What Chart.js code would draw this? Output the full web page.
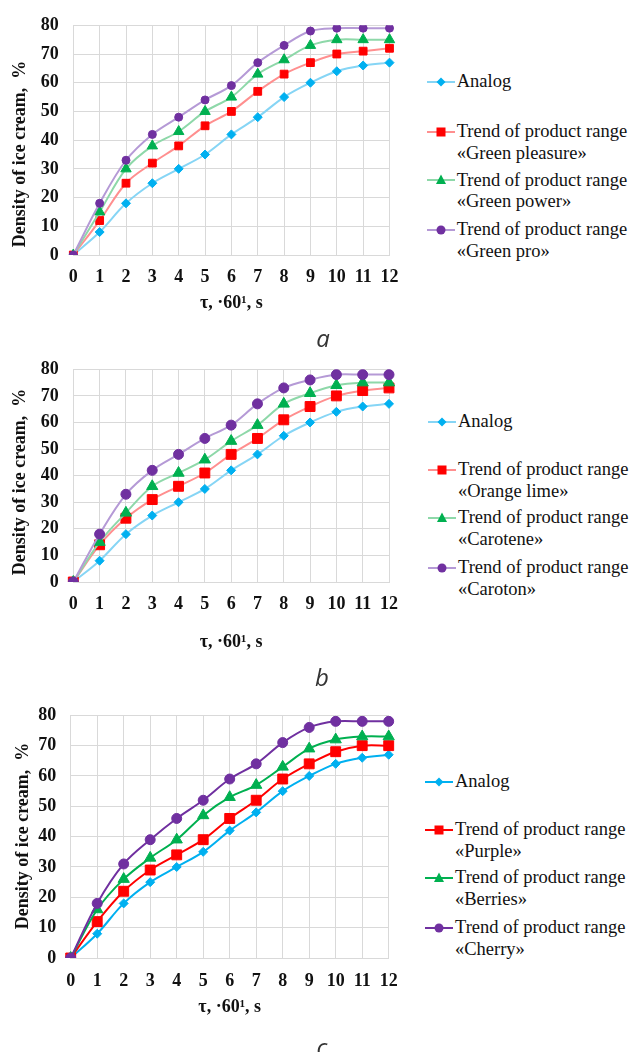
<!DOCTYPE html>
<html>
<head>
<meta charset="utf-8">
<script src="https://cdn.jsdelivr.net/npm/chart.js@4"></script>
<style>
  html, body { margin: 0; padding: 0; background: #fff; }
  body { width: 632px; height: 1052px; position: relative; overflow: hidden; }
  canvas { position: absolute; left: 0; }
  .ytitle { position: absolute; font: bold 18px "Liberation Serif", serif; color: #111;
            white-space: nowrap; transform: translate(-50%, -50%) rotate(-90deg); }
  .leg { position: absolute; left: 0; font: 18.5px "Liberation Serif", serif; color: #111;
         white-space: nowrap; line-height: 21.7px; }
  .leg svg { position: absolute; }
  .cap { position: absolute; font: italic 24px "Open Sans", sans-serif; color: #333;
         transform: translate(-50%, -50%); }
</style>
</head>
<body>
<canvas id="chartA"></canvas>
<canvas id="chartB"></canvas>
<canvas id="chartC"></canvas>

<script>
// x categories: time τ, ·60¹ s
var taus = ['0', '1', '2', '3', '4', '5', '6', '7', '8', '9', '10', '11', '12'];
var yTicks = [0, 10, 20, 30, 40, 50, 60, 70, 80];

// common control sample
var analog = [0, 8, 18, 25, 30, 35, 42, 48, 55, 60, 64, 66, 67];

// a
var greenPleasure = [0, 12, 25, 32, 38, 45, 50, 57, 63, 67, 70, 71, 72];
var greenPower = [0, 15, 30, 38, 43, 50, 55, 63, 68, 73, 75, 75, 75];
var greenPro = [0, 18, 33, 42, 48, 54, 59, 67, 73, 78, 79, 79, 79];

// b
var orangeLime = [0, 14, 24, 31, 36, 41, 48, 54, 61, 66, 70, 72, 73];
var carotene = [0, 15, 26, 36, 41, 46, 53, 59, 67, 71, 74, 75, 75];
var caroton = [0, 18, 33, 42, 48, 54, 59, 67, 73, 76, 78, 78, 78];

// c
var purple = [0, 12, 22, 29, 34, 39, 46, 52, 59, 64, 68, 70, 70];
var berries = [0, 16, 26, 33, 39, 47, 53, 57, 63, 69, 72, 73, 73];
var cherry = [0, 18, 31, 39, 46, 52, 59, 64, 71, 76, 78, 78, 78];

var markColors = ['#00b0f0', '#ff0000', '#00b050', '#7030a0'];
var paleLines = ['#86d5f5', '#ff8f8f', '#8ed8a9', '#b59ad6'];
var pointStyles = ['rectRot', 'rect', 'triangle', 'circle'];
var serif = '"Liberation Serif", "Times New Roman", serif';

function makeChart(id, series, names, g) {
    var canvas = document.getElementById(id);
    canvas.style.top = g.top + 'px';
    canvas.width = 410;
    canvas.height = g.height;
    canvas.style.width = '410px';
    canvas.style.height = g.height + 'px';

    var datasets = series.map(function (s, i) {
        return {
            label: names[i],
            data: s,
            borderColor: g.lines[i],
            backgroundColor: markColors[i],
            borderWidth: 2,
            tension: 0.35,
            pointStyle: pointStyles[i],
            pointRadius: g.radius[i],
            pointBackgroundColor: markColors[i],
            pointBorderColor: markColors[i],
            pointBorderWidth: 1,
            order: 4 - i
        };
    });

    return new Chart(canvas, {
        type: 'line',
        data: { labels: taus, datasets: datasets },
        options: {
            responsive: false,
            animation: false,
            layout: { padding: { top: g.padTop, right: g.padRight, left: 0, bottom: 0 } },
            plugins: { legend: { display: false }, tooltip: { enabled: false } },
            scales: {
                x: {
                    grid: { color: '#d9d9d9', drawTicks: false },
                    border: { color: '#d9d9d9' },
                    ticks: {
                        padding: g.xTickPad, color: '#111', maxRotation: 0, autoSkip: false,
                        font: { family: serif, weight: 'bold', size: 18 }
                    },
                    title: {
                        display: true, text: 'τ, ·60¹, s', color: '#111',
                        font: { family: serif, weight: 'bold', size: 18 },
                        padding: { top: 0, bottom: g.xTitlePad }
                    },
                    afterFit: function (s) { s.height = g.xAxisH; }
                },
                y: {
                    min: 0, max: 80,
                    grid: { color: '#d9d9d9', drawTicks: false },
                    border: { color: '#d9d9d9' },
                    afterBuildTicks: function (s) {
                        s.ticks = yTicks.map(function (v) { return { value: v }; });
                    },
                    ticks: {
                        padding: 14.5, color: '#111',
                        font: { family: serif, weight: 'bold', size: 18 }
                    },
                    afterFit: function (s) { s.width = g.left; }
                }
            }
        }
    });
}

makeChart('chartA', [analog, greenPleasure, greenPower, greenPro],
    ['Analog', 'Green pleasure', 'Green power', 'Green pro'],
    { top: 0, height: 325, padTop: 20, padRight: 12.3, left: 73.3, xAxisH: 70,
      xTickPad: 11.5, xTitlePad: 11, lines: paleLines, radius: [4.5, 5.5, 6, 4] });

makeChart('chartB', [analog, orangeLime, carotene, caroton],
    ['Analog', 'Orange lime', 'Carotene', 'Caroton'],
    { top: 340, height: 314, padTop: 29.3, padRight: 11, left: 73.3, xAxisH: 72,
      xTickPad: 12, xTitlePad: 1, lines: paleLines, radius: [4.5, 7, 6.5, 5] });

makeChart('chartC', [analog, purple, berries, cherry],
    ['Analog', 'Purple', 'Berries', 'Cherry'],
    { top: 690, height: 338, padTop: 24.3, padRight: 14.3, left: 70.7, xAxisH: 70,
      xTickPad: 12.3, xTitlePad: 10, lines: markColors, radius: [4.5, 7, 6.5, 5] });

// axis titles and legends as page text
function addDiv(cls, html, css) {
    var d = document.createElement('div');
    d.className = cls;
    d.innerHTML = html;
    for (var k in css) d.style[k] = css[k];
    document.body.appendChild(d);
    return d;
}

var yTitle = 'Density of ice cream,&nbsp; %';
addDiv('ytitle', yTitle, { left: '19px', top: '153.7px' });
addDiv('ytitle', yTitle, { left: '19px', top: '482px' });
addDiv('ytitle', yTitle, { left: '22px', top: '836px' });

function markerSvg(i, line) {
    var m = '';
    var c = markColors[i];
    if (i === 0) m = '<polygon points="14,2.5 18.5,7 14,11.5 9.5,7" fill="' + c + '"/>';
    if (i === 1) m = '<rect x="9.5" y="2.5" width="9" height="9" fill="' + c + '"/>';
    if (i === 2) m = '<polygon points="14,1.5 19,11 9,11" fill="' + c + '"/>';
    if (i === 3) m = '<circle cx="14" cy="7" r="4.5" fill="' + c + '"/>';
    return '<svg width="28" height="14" style="left:-30px;top:3.85px">' +
        '<line x1="0" y1="7" x2="28" y2="7" stroke="' + line + '" stroke-width="2"/>' + m + '</svg>';
}

function addLegend(names, textX, rows, lines) {
    names.forEach(function (n, i) {
        var html = i === 0 ? 'Analog' : 'Trend of product range<br>«' + n + '»';
        addDiv('leg', markerSvg(i, lines[i]) + html,
            { left: textX + 'px', top: (rows[i] - 10.85) + 'px' });
    });
}

addLegend(['Analog', 'Green pleasure', 'Green power', 'Green pro'], 456.7,
    [82.3, 131.7, 180.5, 230], paleLines);
addLegend(['Analog', 'Orange lime', 'Carotene', 'Caroton'], 458,
    [421.7, 470, 518.3, 568.3], paleLines);
addLegend(['Analog', 'Purple', 'Berries', 'Cherry'], 455,
    [781.7, 830, 878.3, 928.3], markColors);

addDiv('cap', 'a', { left: '323px', top: '337px' });
addDiv('cap', 'b', { left: '322px', top: '676px' });
addDiv('cap', 'c', { left: '322px', top: '1046px' });
</script>
</body>
</html>
